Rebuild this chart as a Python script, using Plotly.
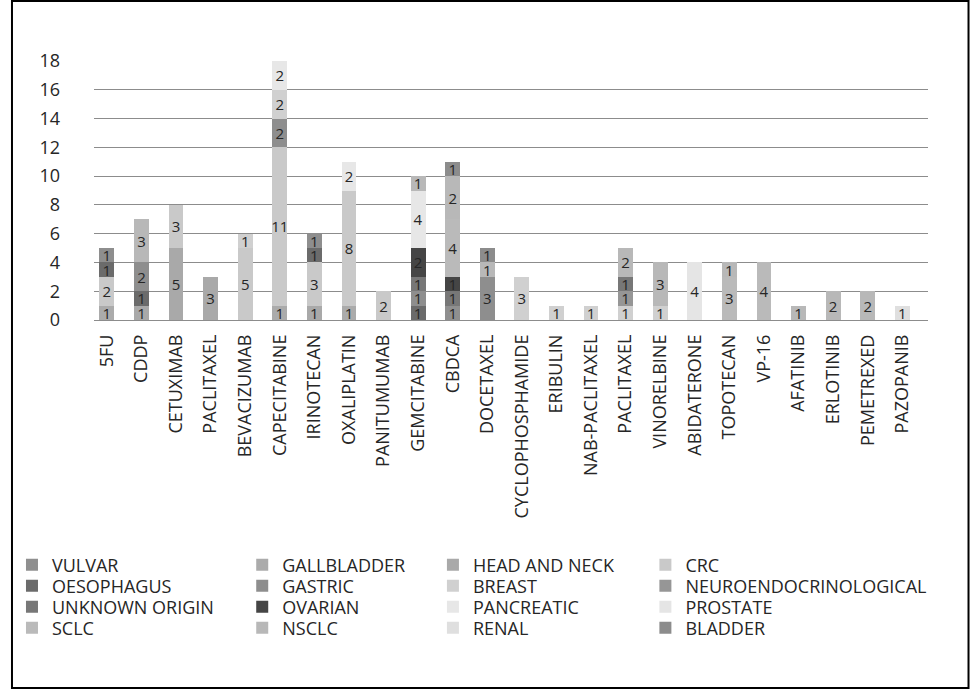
import plotly.graph_objects as go

categories = ["5FU", "CDDP", "CETUXIMAB", "PACLITAXEL", "BEVACIZUMAB", "CAPECITABINE",
              "IRINOTECAN", "OXALIPLATIN", "PANITUMUMAB", "GEMCITABINE", "CBDCA", "DOCETAXEL",
              "CYCLOPHOSPHAMIDE", "ERIBULIN", "NAB-PACLITAXEL", "PACLITAXEL", "VINORELBINE",
              "ABIDATERONE", "TOPOTECAN", "VP-16", "AFATINIB", "ERLOTINIB", "PEMETREXED", "PAZOPANIB"]

N = None
#            5FU CDDP CETU PACL BEVA CAPE IRIN OXAL PANI GEMC CBDC DOCE CYCL ERIB NABP PAC2 VINO ABID TOPO VP16 AFAT ERLO PEME PAZO
vulvar     = [N, N, N, N, N, N, N, N, N, N, 1, N, N, N, N, N, N, N, N, N, N, N, N, N]
gallbladder = [1, N, N, N, N, 1, N, 1, N, N, N, N, N, N, N, N, N, N, N, N, N, N, N, N]
head_neck  = [N, 1, 5, 3, N, N, 1, N, N, N, N, N, N, N, N, N, N, N, N, N, N, N, N, N]
crc        = [2, N, 3, N, 5, 11, 3, 8, 2, N, N, N, N, N, N, N, N, N, N, N, N, N, N, N]
oesophagus = [1, 1, N, N, N, N, 1, N, N, 1, N, N, N, N, N, N, N, N, N, N, N, N, N, N]
gastric    = [1, 2, N, N, N, 2, 1, N, N, 1, N, 3, N, N, N, N, N, N, N, N, N, N, N, N]
breast     = [N, N, N, N, 1, 2, N, N, N, N, N, N, 3, 1, 1, 1, 1, N, N, N, N, N, N, N]
neuro      = [N, N, N, N, N, N, N, N, N, N, N, N, N, N, N, 1, N, N, N, N, N, N, N, N]
unknown    = [N, N, N, N, N, N, N, N, N, 1, 1, N, N, N, N, 1, N, N, N, N, N, N, N, N]
ovarian    = [N, N, N, N, N, N, N, N, N, 2, 1, N, N, N, N, N, N, N, N, N, N, N, N, N]
pancreatic = [N, N, N, N, N, 2, N, 2, N, 4, N, N, N, N, N, N, N, N, N, N, N, N, N, N]
prostate   = [N, N, N, N, N, N, N, N, N, N, N, N, N, N, N, N, N, 4, N, N, N, N, N, N]
sclc       = [N, N, N, N, N, N, N, N, N, N, 4, N, N, N, N, N, N, N, 3, 4, N, N, N, N]
nsclc      = [N, 3, N, N, N, N, N, N, N, 1, 3, 1, N, N, N, 2, 3, N, 1, N, 1, 2, 2, N]
renal      = [N, N, N, N, N, N, N, N, N, N, N, N, N, N, N, N, N, N, N, N, N, N, N, 1]
bladder    = [N, N, N, N, N, N, N, N, N, N, 1, 1, N, N, N, N, N, N, N, N, N, N, N, N]

# data labels of the NSCLC series as printed in the chart
nsclc_labels = ["", "3", "", "", "", "", "", "", "", "1", "2", "1", "", "", "", "2", "3", "", "1", "", "1", "2", "2", ""]

series_names = ["VULVAR", "GALLBLADDER", "HEAD AND NECK", "CRC",
                "OESOPHAGUS", "GASTRIC", "BREAST", "NEUROENDOCRINOLOGICAL",
                "UNKNOWN ORIGIN", "OVARIAN", "PANCREATIC", "PROSTATE",
                "SCLC", "NSCLC", "RENAL", "BLADDER"]
series_values = [vulvar, gallbladder, head_neck, crc, oesophagus, gastric, breast, neuro,
                 unknown, ovarian, pancreatic, prostate, sclc, nsclc, renal, bladder]
series_colors = ["#8f8f8f", "#ababab", "#a9a9a9", "#c9c9c9",
                 "#6b6b6b", "#8e8e8e", "#d0d0d0", "#969696",
                 "#777777", "#454545", "#e7e7e7", "#e5e5e5",
                 "#bababa", "#b8b8b8", "#dfdfdf", "#8c8c8c"]

FONT = "Open Sans"
TXT = "#262626"

# pixel geometry of plot area
L, R, T, B = 84, 928, 61, 320
W, H = 971, 690
pw, ph = R - L, B - T

def px_x(p):
    return (p - L) / pw

def px_y(p):
    return (B - p) / ph

col_text_x = [48, 281, 474, 689]
row_y = [565, 586, 607, 628]

fig = go.Figure()
xs = list(range(len(categories)))
for k, (name, vals, col) in enumerate(zip(series_names, series_values, series_colors)):
    if name == "NSCLC":
        labels = nsclc_labels
    else:
        labels = ["" if v is None else str(v) for v in vals]
    lname = "legend" if k == 0 else f"legend{k + 1}"
    fig.add_trace(go.Bar(
        x=xs, y=vals, name=name, marker=dict(color=col, line=dict(width=0)),
        width=15 / 35, text=labels, textposition="inside", insidetextanchor="middle",
        textangle=0, textfont=dict(family=FONT, size=15, color=TXT),
        legend=lname, showlegend=True,
    ))

legends = {}
for k in range(len(series_names)):
    lname = "legend" if k == 0 else f"legend{k + 1}"
    c, r = k % 4, k // 4
    legends[lname] = dict(
        x=px_x(col_text_x[c] - 47), y=px_y(row_y[r]), xanchor="left", yanchor="middle",
        orientation="v", bgcolor="rgba(0,0,0,0)", borderwidth=0,
        font=dict(family=FONT, size=18, color=TXT),
    )

fig.update_layout(
    width=W, height=H, barmode="stack",
    margin=dict(l=L, r=W - R, t=T, b=H - B, pad=0),
    paper_bgcolor="white", plot_bgcolor="white",
    font=dict(family=FONT, size=18, color=TXT),
    uniformtext=dict(minsize=15, mode="show"),
    xaxis=dict(tickmode="array", tickvals=xs, ticktext=categories, tickangle=-90,
               range=[-0.371, 23.743], showgrid=False, showline=False, zeroline=False,
               ticks="", ticklabelstandoff=10, tickfont=dict(family=FONT, size=18, color=TXT)),
    yaxis=dict(range=[0, 18], dtick=2, showgrid=True, gridcolor="#8c8c8c", gridwidth=1,
               zeroline=True, zerolinecolor="#8c8c8c", zerolinewidth=1, showline=False,
               ticks="", ticklabelstandoff=33, tickfont=dict(family=FONT, size=18, color=TXT)),
    shapes=[dict(type="rect", xref="paper", yref="paper",
                 x0=px_x(1), x1=px_x(969), y0=px_y(688), y1=px_y(1),
                 line=dict(color="black", width=2), fillcolor="rgba(0,0,0,0)", layer="above")],
    **legends,
)

fig.write_html("out.html", config={"displayModeBar": False},
               post_script="document.body.style.margin='0';document.body.style.overflow='hidden';")
